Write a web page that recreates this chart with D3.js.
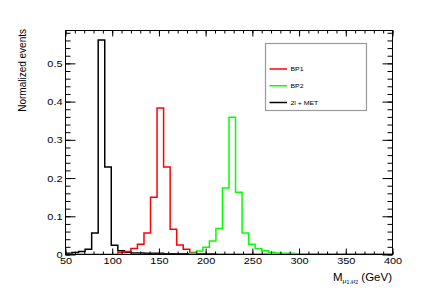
<!DOCTYPE html>
<html>
<head>
<meta charset="utf-8">
<script src="https://cdn.jsdelivr.net/npm/d3@7/dist/d3.min.js"></script>
<style>
  body { margin: 0; background: #fff; }
  svg { display: block; }
  text { font-family: Helvetica, Arial, "Liberation Sans", sans-serif; fill: #000; }
</style>
</head>
<body>
<svg width="436" height="300"></svg>
<script>
// histogram binning: 50 bins of 7 GeV from 50 to 400
const binStart = 50, binWidth = 7, nBins = 50;

// bin contents
const bkgValues = [0.003, 0.005, 0.008, 0.014, 0.056, 0.561, 0.229, 0.024, 0.010, 0.006,
  0.004, 0.004, 0.003, 0.003, 0.003, 0.002, 0.002, 0.002, 0.002, 0.001,
  0.001, 0.001, 0.001, 0, 0, 0, 0, 0, 0, 0,
  0, 0, 0, 0, 0, 0, 0, 0, 0, 0,
  0, 0, 0, 0, 0, 0, 0, 0, 0, 0];
const bp1Values = [0, 0, 0, 0, 0, 0, 0, 0, 0.005, 0.008,
  0.016, 0.027, 0.056, 0.150, 0.383, 0.229, 0.066, 0.025, 0.014, 0.005,
  0.001, 0, 0, 0, 0, 0, 0, 0, 0, 0,
  0, 0, 0, 0, 0, 0, 0, 0, 0, 0,
  0, 0, 0, 0, 0, 0, 0, 0, 0, 0];
const bp2Values = [0, 0, 0, 0, 0, 0, 0, 0, 0, 0,
  0, 0, 0, 0, 0, 0, 0, 0, 0, 0.003,
  0.009, 0.019, 0.035, 0.068, 0.174, 0.359, 0.163, 0.056, 0.027, 0.016,
  0.010, 0.006, 0.004, 0.003, 0.003, 0.002, 0.002, 0.002, 0.002, 0.001,
  0.001, 0.001, 0.001, 0.001, 0.001, 0.001, 0.001, 0.001, 0.001, 0.001];

const seriesNames = ["BP1", "BP2", "2l + MET"];
const xTicks = [50, 100, 150, 200, 250, 300, 350, 400];
const yTicks = [0, 0.1, 0.2, 0.3, 0.4, 0.5];

const svg = d3.select("svg");
const stretch = 1.15; // ROOT text looks a bit wide

const frameL = 65.5, frameR = 392.5, frameT = 30.5, frameB = 254.5;

const x = d3.scaleLinear().domain([50, 400]).range([frameL, frameR]);
const y = d3.scaleLinear().domain([0, 0.586]).range([frameB, frameT]);

// clip for histograms
svg.append("clipPath").attr("id", "frame")
  .append("rect")
    .attr("x", frameL).attr("y", frameT - 1)
    .attr("width", frameR - frameL).attr("height", frameB - frameT + 1);

// step line for one histogram
const stepLine = d3.line()
  .x(d => x(d[0]))
  .y(d => y(d[1]))
  .curve(d3.curveStepAfter);

function histPoints(values) {
  let pts = values.map((v, i) => [binStart + i * binWidth, v]);
  pts.push([binStart + nBins * binWidth, values[values.length - 1]]);
  return pts;
}

const hists = [
  { values: bkgValues, color: "#000000" },
  { values: bp1Values, color: "#ff0000" },
  { values: bp2Values, color: "#00ff00" }
];

svg.append("g").attr("clip-path", "url(#frame)")
  .selectAll("path")
  .data(hists)
  .enter().append("path")
    .attr("d", d => stepLine(histPoints(d.values)))
    .attr("fill", "none")
    .attr("stroke", d => d.color)
    .attr("stroke-width", 1.5);

// axes: ticks drawn inside frame, also mirrored on top/right
const xMinor = d3.range(50, 401, 10);
const yMinor = d3.range(0, 0.5801, 0.02);

function addAxis(axis, transform) {
  const g = svg.append("g").attr("transform", transform).call(axis);
  g.select(".domain").remove();
  g.selectAll("line").attr("stroke", "#000");
  return g;
}

// bottom
addAxis(d3.axisBottom(x).tickValues(xMinor).tickSize(-3).tickFormat(""), `translate(0,${frameB})`);
const xAx = addAxis(d3.axisBottom(x).tickValues(xTicks).tickSize(-6).tickPadding(3).tickFormat(d3.format("d")),
  `translate(0,${frameB})`);
xAx.selectAll("text")
  .attr("font-size", 9.5)
  .attr("transform", `scale(${stretch},1)`);

// top
addAxis(d3.axisTop(x).tickValues(xMinor).tickSize(-3).tickFormat(""), `translate(0,${frameT})`);
addAxis(d3.axisTop(x).tickValues(xTicks).tickSize(-6).tickFormat(""), `translate(0,${frameT})`);

// left
addAxis(d3.axisLeft(y).tickValues(yMinor).tickSize(-5).tickFormat(""), `translate(${frameL},0)`);
const yAx = addAxis(d3.axisLeft(y).tickValues(yTicks).tickSize(-10).tickPadding(2.6)
  .tickFormat(d => d === 0 ? "0" : d.toFixed(1)), `translate(${frameL},0)`);
yAx.selectAll("text")
  .attr("font-size", 9.5)
  .attr("transform", `scale(${stretch},1)`);

// right
addAxis(d3.axisRight(y).tickValues(yMinor).tickSize(-5).tickFormat(""), `translate(${frameR},0)`);
addAxis(d3.axisRight(y).tickValues(yTicks).tickSize(-10).tickFormat(""), `translate(${frameR},0)`);

// frame
svg.append("rect")
  .attr("x", frameL).attr("y", frameT)
  .attr("width", frameR - frameL).attr("height", frameB - frameT)
  .attr("fill", "none")
  .attr("stroke", "#000")
  .attr("stroke-width", 1);

// axis titles
svg.append("text")
  .attr("transform", "translate(26,29) rotate(-90)")
  .attr("text-anchor", "end")
  .attr("font-size", 10)
  .text("Normalized events");

const xt = svg.append("g")
  .attr("transform", `translate(392,280.5) scale(${stretch},1)`)
  .append("text")
    .attr("text-anchor", "end")
    .attr("font-size", 10);
xt.append("tspan").text("M");
xt.append("tspan").attr("font-size", 6).attr("dy", 2.5).text("μ");
xt.append("tspan").attr("font-size", 4.5).attr("dy", 1).text("1");
xt.append("tspan").attr("font-size", 6).attr("dy", -1).text(",μ");
xt.append("tspan").attr("font-size", 4.5).attr("dy", 1).text("2");
xt.append("tspan").attr("dy", -3.5).text(" (GeV)");

// legend
const legend = svg.append("g");
legend.append("rect")
  .attr("x", 265.5).attr("y", 43.5)
  .attr("width", 101).attr("height", 67)
  .attr("fill", "#fff")
  .attr("stroke", "#999")
  .attr("stroke-width", 1.2);

const legendColors = ["#ff0000", "#00ff00", "#000000"];
const legendY = d3.scalePoint().domain(seriesNames).range([69, 102.5]);

const items = legend.selectAll("g.item")
  .data(seriesNames)
  .enter().append("g")
    .attr("class", "item")
    .attr("transform", d => `translate(0,${legendY(d)})`);

items.append("line")
  .attr("x1", 269.5).attr("x2", 287)
  .attr("stroke", (d, i) => legendColors[i])
  .attr("stroke-width", 1.5);

items.append("text")
  .attr("transform", `translate(290.5,2.2) scale(${stretch},1)`)
  .attr("font-size", 6)
  .text(d => d);
</script>
</body>
</html>
